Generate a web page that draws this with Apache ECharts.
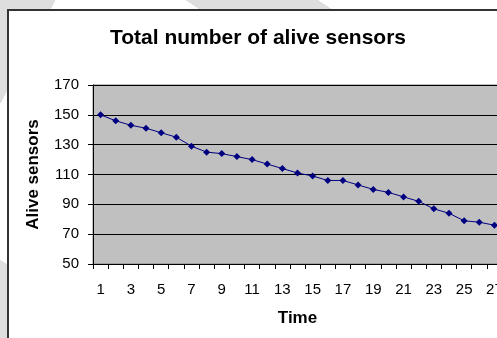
<!DOCTYPE html>
<html>
<head>
<meta charset="utf-8">
<script src="https://cdn.jsdelivr.net/npm/echarts@6/dist/echarts.min.js"></script>
<style>
  html, body {
    margin: 0;
    padding: 0;
    width: 497px;
    height: 338px;
    overflow: hidden;
    /* faint diagonal watermark bands behind the chart frame */
    background:
      linear-gradient(118deg, #dedede 49px, transparent 49px),
      linear-gradient(34deg, #dedede 65px, transparent 65px, transparent 384px, #dedede 384px, #dedede 458px, transparent 458px),
      #fff;
  }
  .frame {
    position: absolute;
    left: 7px;
    top: 9px;
    width: 600px;
    height: 400px;
    background: #fff;
    border-left: 2px solid #333;
    border-top: 2px solid #333;
  }
  #chart {
    position: absolute;
    left: 0;
    top: 0;
    width: 497px;
    height: 338px;
  }
</style>
</head>
<body>
<div class="frame"></div>
<div id="chart"></div>
<script>
// time steps 1..27
const timeSteps = ['1', '2', '3', '4', '5', '6', '7', '8', '9', '10', '11', '12', '13', '14',
  '15', '16', '17', '18', '19', '20', '21', '22', '23', '24', '25', '26', '27']
// number of alive sensors at each time step
const aliveSensors = [150, 146, 143, 141, 138, 135, 129, 125, 124, 122, 120, 117, 114, 111,
  109, 106, 106, 103, 100, 98, 95, 92, 87, 84, 79, 78, 76]

const yMin = 50
const yMax = 170
const yStep = 20

const font = 'Liberation Sans, Arial, sans-serif'

const chart = echarts.init(document.getElementById('chart'))

chart.setOption({
  backgroundColor: 'transparent',
  animation: false,
  title: {
    text: 'Total number of alive sensors',
    left: 253,
    top: 23,
    textAlign: 'center',
    textStyle: { fontFamily: font, fontSize: 21, fontWeight: 'bold', color: '#000' }
  },
  grid: {
    left: 93,
    top: 85,
    width: 409,
    height: 179,
    outerBoundsMode: 'none',
    containLabel: false,
    show: true,
    backgroundColor: '#c0c0c0',
    borderColor: '#808080',
    borderWidth: 1
  },
  xAxis: {
    type: 'category',
    data: timeSteps,
    boundaryGap: true,
    name: 'Time',
    nameLocation: 'middle',
    nameGap: 46,
    nameTextStyle: { fontFamily: font, fontSize: 17, fontWeight: 'bold', color: '#000' },
    axisLine: { lineStyle: { color: '#000', width: 1 } },
    axisTick: { show: true, interval: 0, length: 5, lineStyle: { color: '#000' } },
    axisLabel: { interval: 1, margin: 18, fontFamily: font, fontSize: 15, color: '#000' },
    splitLine: { show: false }
  },
  yAxis: {
    type: 'value',
    min: yMin,
    max: yMax,
    interval: yStep,
    name: 'Alive sensors',
    nameLocation: 'middle',
    nameGap: 51,
    nameTextStyle: { fontFamily: font, fontSize: 17, fontWeight: 'bold', color: '#000' },
    axisLine: { show: true, lineStyle: { color: '#000', width: 1 } },
    axisTick: { show: true, length: 5, lineStyle: { color: '#000' } },
    axisLabel: { margin: 14, fontFamily: font, fontSize: 15, color: '#000' },
    splitLine: { show: true, lineStyle: { color: '#000', width: 1 } }
  },
  series: [{
    name: 'Alive sensors',
    type: 'line',
    data: aliveSensors,
    symbol: 'diamond',
    symbolSize: 7,
    lineStyle: { color: '#000080', width: 1 },
    itemStyle: { color: '#000080' }
  }]
})
</script>
</body>
</html>
